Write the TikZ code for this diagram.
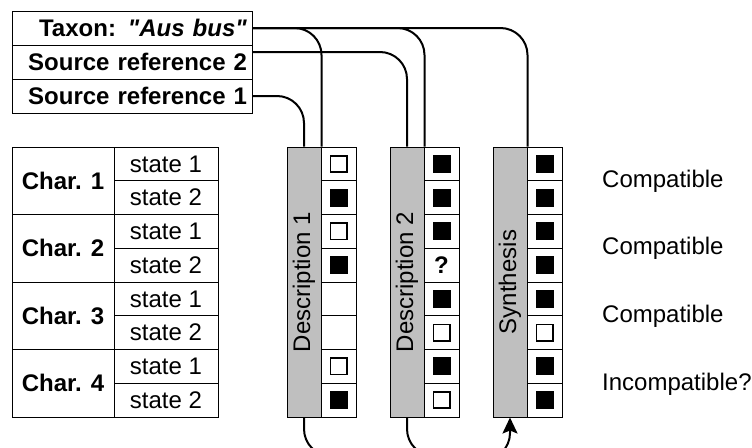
\documentclass[tikz,border=0pt]{standalone}
\usepackage{fontspec}
\setmainfont{Liberation Sans}[Ligatures=TeXOff]
\usetikzlibrary{arrows.meta}
\newcommand{\fsz}{\fontsize{24pt}{28pt}\selectfont}
\begin{document}
\begin{tikzpicture}[x=1pt,y=-1pt,
  box/.style={draw=black,line width=1pt,inner sep=0pt,font=\fsz},
  topbox/.style={box,minimum width=240pt,minimum height=34pt,text width=230pt,align=right,font=\fsz\bfseries},
  charbox/.style={box,minimum width=102pt,minimum height=67.5pt,font=\fsz\bfseries},
  statebox/.style={box,minimum width=104pt,minimum height=33.75pt},
  graybar/.style={box,fill=black!25,minimum width=34pt,minimum height=270pt},
  cellbox/.style={box,fill=white,minimum width=35pt,minimum height=33.75pt},
  markb/.style={fill=black,minimum size=18pt,inner sep=0pt},
  markw/.style={draw=black,fill=white,line width=1.8pt,minimum size=16.2pt,inner sep=0pt},
  marke/.style={inner sep=0pt},
  markq/.style={inner sep=0pt},
  conn/.style={draw=black,line width=2pt,rounded corners=27pt},
  res/.style={anchor=west,font=\fsz,inner sep=0pt}
]
\useasboundingbox (0,0) rectangle (752,447);
\clip (0,0) rectangle (752,447);
% top box
\node[topbox] (taxon) at (132,28) {Taxon: \textit{"Aus bus"}};
\node[topbox] (sr2) at (132,62) {Source reference 2};
\node[topbox] (sr1) at (132,96) {Source reference 1};
% left table
\foreach \c in {1,...,4}{
  \node[charbox] (ch\c) at (63,{147+67.5*(\c-0.5)}) {Char. \c};
  \node[statebox] (st\c a) at (166,{147+67.5*(\c-1)+16.875}) {state 1};
  \node[statebox] (st\c b) at (166,{147+67.5*(\c-1)+50.625}) {state 2};
}
% columns
\node[graybar] (g1) at (304,282) {};
\node[rotate=90,font=\fsz] (t1) at (g1) {Description 1};
\node[graybar] (g2) at (407,282) {};
\node[rotate=90,font=\fsz] (t2) at (g2) {Description 2};
\node[graybar] (g3) at (510,282) {};
\node[rotate=90,font=\fsz] (t3) at (g3) {Synthesis};
\foreach \t [count=\i] in {w,b,w,b,e,e,w,b}{
  \node[cellbox] (a\i) at (338.5,{147+33.75*(\i-0.5)}) {};
  \node[mark\t] (ma\i) at (a\i) {};
}
\foreach \t [count=\i] in {b,b,b,q,b,w,b,w}{
  \node[cellbox] (b\i) at (441.5,{147+33.75*(\i-0.5)}) {};
  \node[mark\t] (mb\i) at (b\i) {};
}
\node[font=\fsz\bfseries] (qm) at (b4) {?};
\foreach \t [count=\i] in {b,b,b,b,b,w,b,b}{
  \node[cellbox] (c\i) at (544.5,{147+33.75*(\i-0.5)}) {};
  \node[mark\t] (mc\i) at (c\i) {};
}
% results
\node[res] (r1) at (602,181) {Compatible};
\node[res] (r2) at (602,248) {Compatible};
\node[res] (r3) at (602,316) {Compatible};
\node[res] (r4) at (602,384) {Incompatible?};
% connectors
\draw[conn] (taxon.east) -| (g1.north east);
\draw[conn] (taxon.east) -| (g2.north east);
\draw[conn] (taxon.east) -| (g3.north east);
\draw[conn] (sr1.east) -| (g1.north);
\draw[conn] ([yshift=10pt]sr2.east) -| (g2.north);
\coordinate (bot) at (470,456);
\coordinate (bot2) at (440,460);
\draw[conn] (g1.south) |- (bot);
\draw[conn] (g2.south) |- (bot);
\draw[conn,-{Stealth[length=16pt,width=15pt,inset=3pt]}] (bot2) -| (g3.south);
\end{tikzpicture}
\end{document}
